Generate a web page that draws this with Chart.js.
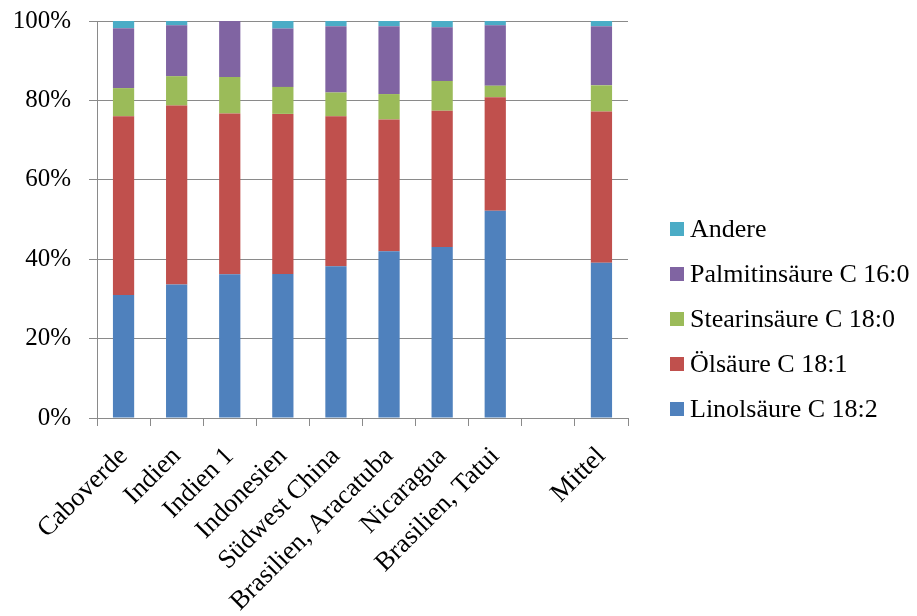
<!DOCTYPE html>
<html>
<head>
<meta charset="utf-8">
<script src="https://cdn.jsdelivr.net/npm/chart.js@4/dist/chart.umd.min.js"></script>
<style>
  html, body { margin: 0; padding: 0; background: #fff; }
  #wrap { width: 917px; height: 616px; }
</style>
</head>
<body>
<div id="wrap"><canvas id="c" width="917" height="616"></canvas></div>
<script>
// Fettsäurezusammensetzung nach Herkunft (Anteile in %)
const categories = ['Caboverde', 'Indien', 'Indien 1', 'Indonesien', 'Südwest China',
  'Brasilien, Aracatuba', 'Nicaragua', 'Brasilien, Tatui', '', 'Mittel'];
const linolsaeure   = [31.0, 33.6, 36.2, 36.3, 38.2, 42.0, 43.1, 52.2, null, 39.1];
const oelsaeure     = [45.0, 45.1, 40.5, 40.3, 37.8, 33.2, 34.3, 28.6, null, 38.1];
const stearinsaeure = [7.1, 7.4, 9.2, 6.8, 6.0, 6.4, 7.5, 2.9, null, 6.6];
const palmitinsaeure = [15.1, 12.8, 14.1, 14.7, 16.7, 17.1, 13.5, 15.2, null, 14.9];
const andere        = [1.8, 1.1, 0.0, 1.9, 1.3, 1.3, 1.6, 1.1, null, 1.3];
const seriesNames = ['Linolsäure C 18:2', 'Ölsäure C 18:1', 'Stearinsäure C 18:0',
  'Palmitinsäure C 16:0', 'Andere'];
const yTicks = [0, 20, 40, 60, 80, 100];

const colors = ['#4F81BD', '#C0504D', '#9BBB59', '#8064A2', '#4BACC6'];
const gridColor = '#8a8a8a';
const FONT = "'Liberation Serif', 'Times New Roman', serif";

const seriesValues = [linolsaeure, oelsaeure, stearinsaeure, palmitinsaeure, andere];
const datasets = seriesValues.map((vals, i) => ({
  label: seriesNames[i],
  data: vals,
  backgroundColor: colors[i],
  borderWidth: 0,
  categoryPercentage: 1.0,
  barPercentage: 0.4
}));

// Legend on the right, top entry = last series
const sideLegend = {
  id: 'sideLegend',
  afterDraw(chart) {
    const ctx = chart.ctx;
    const ds = chart.data.datasets;
    ctx.save();
    ctx.font = '26px ' + FONT;
    ctx.textBaseline = 'middle';
    ctx.textAlign = 'left';
    const x0 = 670, y0 = 229, step = 45, box = 14;
    for (let k = 0; k < ds.length; k++) {
      const d = ds[ds.length - 1 - k];
      const cy = y0 + k * step;
      ctx.fillStyle = d.backgroundColor;
      ctx.fillRect(x0, cy - box / 2, box, box);
      ctx.fillStyle = '#000';
      ctx.fillText(d.label, x0 + 20, cy + 1);
    }
    ctx.restore();
  }
};

new Chart(document.getElementById('c'), {
  type: 'bar',
  data: { labels: categories, datasets },
  plugins: [sideLegend],
  options: {
    responsive: false,
    animation: false,
    layout: { padding: { top: 21, right: 289, left: 0, bottom: 0 } },
    plugins: {
      legend: { display: false },
      tooltip: { enabled: false }
    },
    scales: {
      x: {
        stacked: true,
        offset: true,
        grid: {
          display: true,
          offset: true,
          drawOnChartArea: false,
          drawTicks: true,
          tickLength: 8,
          color: gridColor,
          lineWidth: 1
        },
        border: { display: true, color: gridColor, width: 1 },
        ticks: {
          autoSkip: false,
          minRotation: 45,
          maxRotation: 45,
          padding: 15,
          color: '#000',
          font: { family: FONT, size: 26.5 }
        },
        afterFit(scale) { scale.height = 198; }
      },
      y: {
        stacked: true,
        min: 0,
        max: 100,
        afterBuildTicks(scale) { scale.ticks = yTicks.map(v => ({ value: v })); },
        grid: {
          color: gridColor,
          lineWidth: 1,
          drawTicks: true,
          tickLength: 8
        },
        border: { display: true, color: gridColor, width: 1 },
        ticks: {
          padding: 18,
          color: '#000',
          font: { family: FONT, size: 25 },
          callback: v => v + '%'
        },
        afterFit(scale) {
          scale.width = 97;
          scale.paddingTop = 0;
          scale.paddingBottom = 0;
        }
      }
    }
  }
});
</script>
</body>
</html>
